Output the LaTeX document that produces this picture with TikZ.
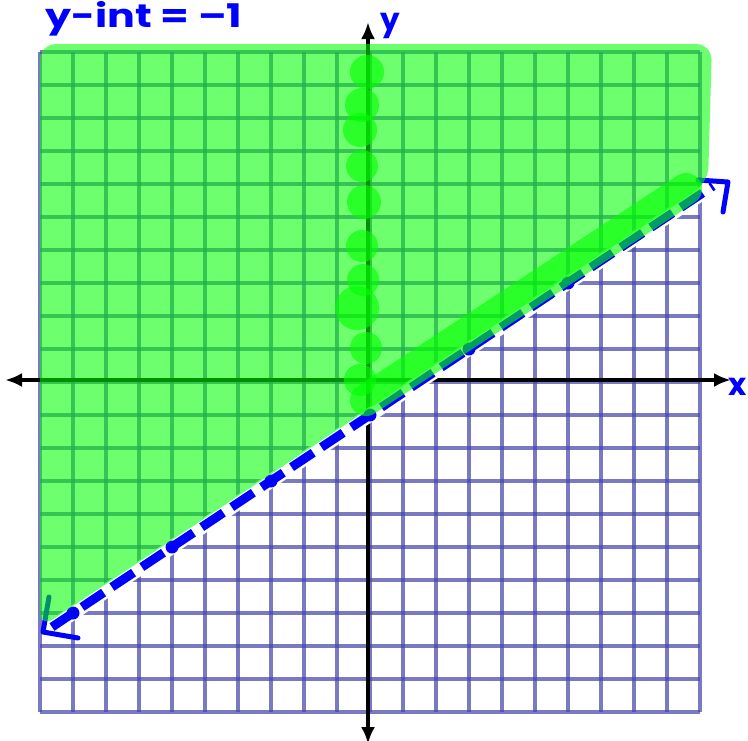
\documentclass[tikz,border=0pt]{standalone}
\usepackage{fontspec}
\setmainfont{Poppins}
\usetikzlibrary{arrows.meta}
\definecolor{gridc}{RGB}{70,70,170}
\definecolor{penblue}{RGB}{0,0,255}
\definecolor{shade}{RGB}{0,255,0}
\begin{document}
\begin{tikzpicture}[x=1pt,y=-1pt,
  gridline/.style={draw=gridc, draw opacity=0.72, line width=3.3pt},
  axisline/.style={line width=4pt, {Latex[length=17pt,width=14pt]}-{Latex[length=17pt,width=14pt]}},
  underlay/.style={draw=white, line width=14pt},
  dashline/.style={draw=penblue, line width=9pt, dash pattern=on 26pt off 10pt},
  ptdot/.style={circle, fill=penblue, inner sep=0pt, minimum size=13pt},
  shadefill/.style={fill=shade, fill opacity=0.57},
  brightgreen/.style={fill=shade, fill opacity=0.62},
  brightband/.style={draw=shade, draw opacity=0.62, line width=32pt, line cap=round},
  pen/.style={draw=penblue, line width=5pt, line cap=round, line join=round},
  hand/.style={text=penblue, font=\bfseries\fontsize{31}{31}\selectfont, inner sep=0pt}]
\useasboundingbox (0,0) rectangle (748,740);
% grid
\foreach \i in {0,...,20}{
  \draw[gridline] (40+33*\i,52) -- (40+33*\i,712);
  \draw[gridline] (40,52+33*\i) -- (700,52+33*\i);
}
% axes
\coordinate (xl) at (5,380);
\coordinate (xr) at (731,380);
\coordinate (yt) at (368,22);
\coordinate (yb) at (368,744);
\draw[axisline] (xl) -- (xr);
\draw[axisline] (yt) -- (yb);
% boundary line
\coordinate (la) at (52,627);
\coordinate (lb) at (713,186);
\draw[underlay] (la) -- (lb);
\draw[dashline] (la) -- (lb);
\node[ptdot] (p0) at (370,415) {};
\node[ptdot] (p1) at (469,349) {};
\node[ptdot] (p2) at (568,283) {};
\node[ptdot] (p3) at (271,481) {};
\node[ptdot] (p4) at (172,547) {};
\node[ptdot] (p5) at (73,613) {};
% hand arrows
\coordinate (a1) at (49,597);
\coordinate (a2) at (43,632);
\coordinate (a3) at (78,638);
\draw[pen] (a1) -- (a2) -- (a3);
\coordinate (b1) at (698,180);
\coordinate (b2) at (728,182);
\coordinate (b3) at (723,212);
\draw[pen] (b1) -- (b2) -- (b3);
% shading
\fill[shadefill, rounded corners=16pt] (40,628) -- (40,44) -- (712,44) -- (708,183) -- cycle;
% bright marker strokes
\coordinate (ba) at (366,400);
\coordinate (bb) at (686,189);
\draw[brightband] (ba) -- (bb);
\foreach \cx/\cy/\r in {367/72/17, 362/105/17, 360/130/17, 362/166/16, 364/202/17, 362/246/16, 363/280/16, 357/308/22, 366/348/16, 360/380/16}{
  \fill[brightgreen] (\cx,\cy) circle[radius=\r];
}
% labels
\node[hand, anchor=base west] (yint) at (45,27) {\scalebox{1.33}[1.05]{y-int = –1}};
\node[hand] (ylab) at (390,26) {y};
\node[hand] (xlab) at (738,387) {x};
\end{tikzpicture}
\end{document}
